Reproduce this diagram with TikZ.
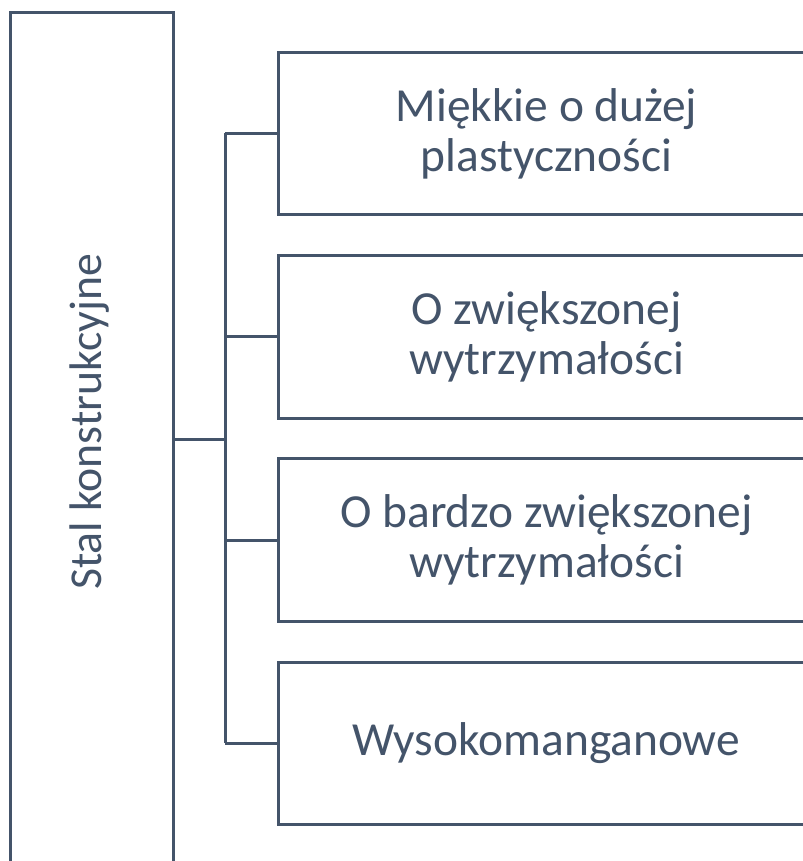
\documentclass[tikz,border=0pt]{standalone}
\usepackage{fontspec}
\setmainfont{Carlito}
\definecolor{slate}{HTML}{44546A}

\begin{document}
\begin{tikzpicture}[x=0.02cm, y=-0.02cm, line width=0.06cm, draw=slate,
    box/.style={draw=slate, fill=white, inner sep=0pt},
    catbox/.style={box, minimum width=10.74cm, minimum height=3.26cm,
      align=center, text=slate, font=\fontsize{27}{28.5}\selectfont}]
  \useasboundingbox (0,0) rectangle (803,861);
  \node[box, anchor=north west, minimum width=3.26cm, minimum height=17.6cm] (stal) at (9,11) {};
  \node[rotate=90, text=slate, font=\fontsize{26}{28.5}\selectfont] (stallbl) at (90,422) {Stal konstrukcyjne};
  \coordinate (fork) at (225,439);
  \foreach \txt [count=\i] in {
    {Miękkie o dużej\\plastyczności},
    {O zwiększonej\\wytrzymałości},
    {O bardzo zwiększonej\\wytrzymałości},
    {Wysokomanganowe}} {
    \node[catbox] (cat\i) at (546.5, 133.5 + 203.33*\i - 203.33) {\txt};
    \draw[slate] (fork |- cat\i.west) -- (cat\i.west);
  }
  \draw[slate] (fork |- cat1.west) -- (fork |- cat4.west);
  \draw[slate] (stal.east |- fork) -- (fork);
\end{tikzpicture}
\end{document}
